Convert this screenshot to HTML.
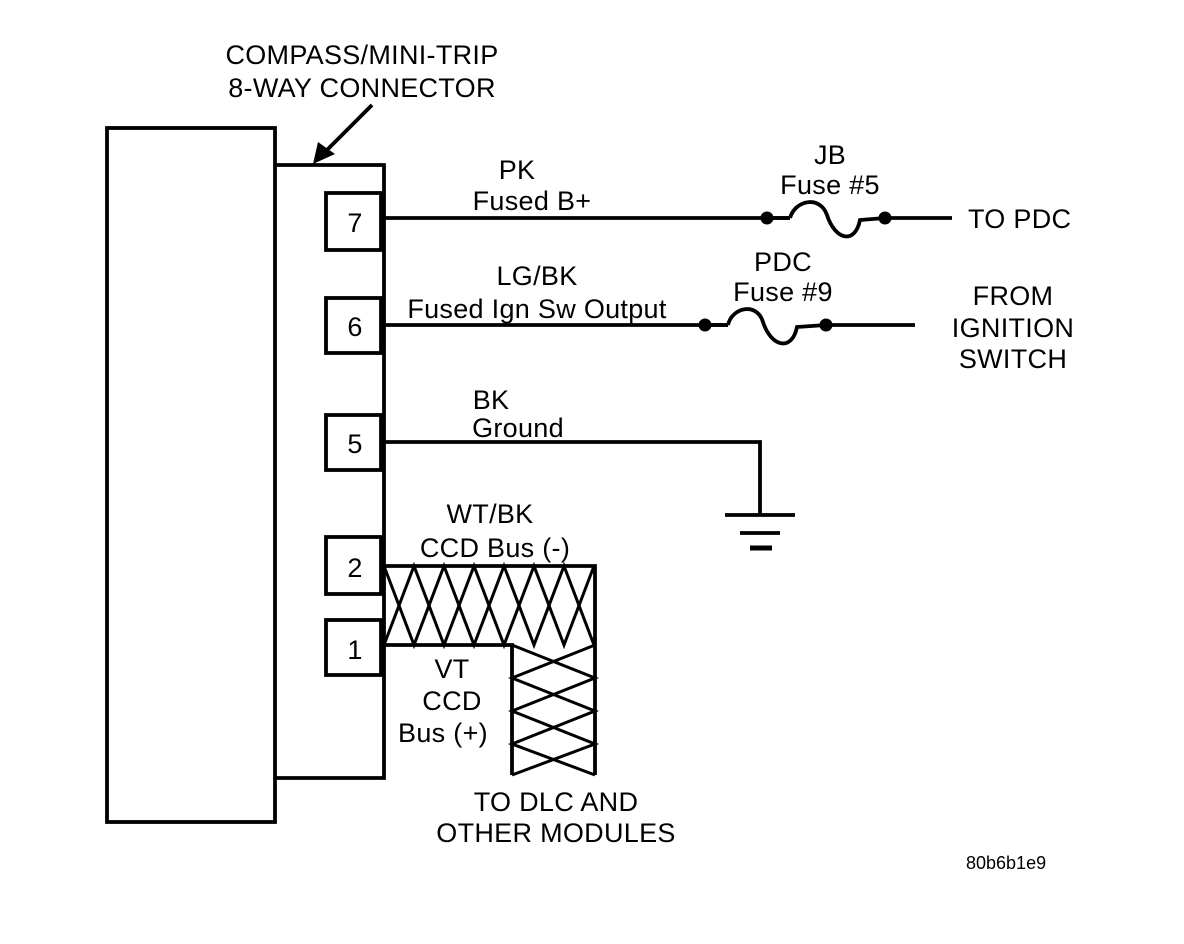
<!DOCTYPE html>
<html><head><meta charset="utf-8"><style>
html,body{margin:0;padding:0;background:#fff;}
svg{display:block;}
text{font-family:"Liberation Sans",Arial,sans-serif;font-size:27px;fill:#000;letter-spacing:0.3px;}
</style></head><body>
<svg width="1184" height="944" viewBox="0 0 1184 944" xmlns="http://www.w3.org/2000/svg">
<g fill="none" stroke="#000" stroke-width="3.8">
<rect x="107" y="128" width="168" height="694"/>
<polyline points="275,165 384,165 384,778 275,778"/>
<rect x="326" y="193" width="55" height="57"/>
<rect x="326" y="298" width="55" height="55"/>
<rect x="326" y="415" width="55" height="55"/>
<rect x="326" y="537" width="55" height="57"/>
<rect x="326" y="620" width="55" height="55"/>
<line x1="384" y1="218" x2="790" y2="218"/>
<path d="M790,218 C795,200 820,195 827,215 C835,240 855,245 860,220 L885,218"/>
<line x1="885" y1="218" x2="952" y2="218"/>
<line x1="384" y1="325" x2="728" y2="325"/>
<path d="M728,325 C732,307 757,302 763,322 C771,347 792,352 797,327 L826,325"/>
<line x1="826" y1="325" x2="915" y2="325"/>
<polyline points="384,442 760,442 760,515"/>
<line x1="725" y1="515" x2="795" y2="515"/>
<line x1="740" y1="533" x2="780" y2="533"/>
<line x1="750" y1="548" x2="772" y2="548" stroke-width="5"/>
<polyline points="384,566 595,566 595,775"/>
<polyline points="384,645 512,645 512,775"/>
<path d="M384,566 L414,645 L444,566 L474,645 L504,566 L534,645 L564,566 L594,645" stroke-width="3"/>
<path d="M384,645 L414,566 L444,645 L474,566 L504,645 L534,566 L564,645 L594,566" stroke-width="3"/>
<path d="M512,645 L595,678 L512,711 L595,744 L512,775" stroke-width="3"/>
<path d="M595,645 L512,678 L595,711 L512,744 L595,775" stroke-width="3"/>
<line x1="372" y1="105" x2="322" y2="155"/>
</g>
<polygon points="313,164 318,142 335,154" fill="#000"/>
<g fill="#000">
<circle cx="767" cy="218" r="6.5"/><circle cx="885" cy="218" r="6.5"/>
<circle cx="705" cy="325" r="6.5"/><circle cx="826" cy="325" r="6.5"/>
</g>
<line x1="705" y1="325" x2="728" y2="325" stroke="#000" stroke-width="3.8"/>
<line x1="767" y1="218" x2="790" y2="218" stroke="#000" stroke-width="3.8"/>
<g text-anchor="middle">
<text x="362" y="64">COMPASS/MINI-TRIP</text>
<text x="362" y="97">8-WAY CONNECTOR</text>
<text x="355" y="232">7</text>
<text x="355" y="336">6</text>
<text x="355" y="453">5</text>
<text x="355" y="577">2</text>
<text x="355" y="659">1</text>
<text x="517" y="179">PK</text>
<text x="532" y="210">Fused B+</text>
<text x="830" y="164">JB</text>
<text x="830" y="194">Fuse #5</text>
<text x="537" y="285">LG/BK</text>
<text x="537" y="318">Fused Ign Sw Output</text>
<text x="783" y="271">PDC</text>
<text x="783" y="301">Fuse #9</text>
<text x="1013" y="305">FROM</text>
<text x="1013" y="337">IGNITION</text>
<text x="1013" y="368">SWITCH</text>
<text x="491" y="409">BK</text>
<text x="518" y="437">Ground</text>
<text x="490" y="523">WT/BK</text>
<text x="495" y="557">CCD Bus (-)</text>
<text x="452" y="678">VT</text>
<text x="452" y="710">CCD</text>
<text x="443" y="742">Bus (+)</text>
<text x="556" y="811">TO DLC AND</text>
<text x="556" y="842">OTHER MODULES</text>
</g>
<text x="968" y="228">TO PDC</text>
<text x="966" y="869" style="font-size:18px;letter-spacing:0">80b6b1e9</text>
</svg>
</body></html>
